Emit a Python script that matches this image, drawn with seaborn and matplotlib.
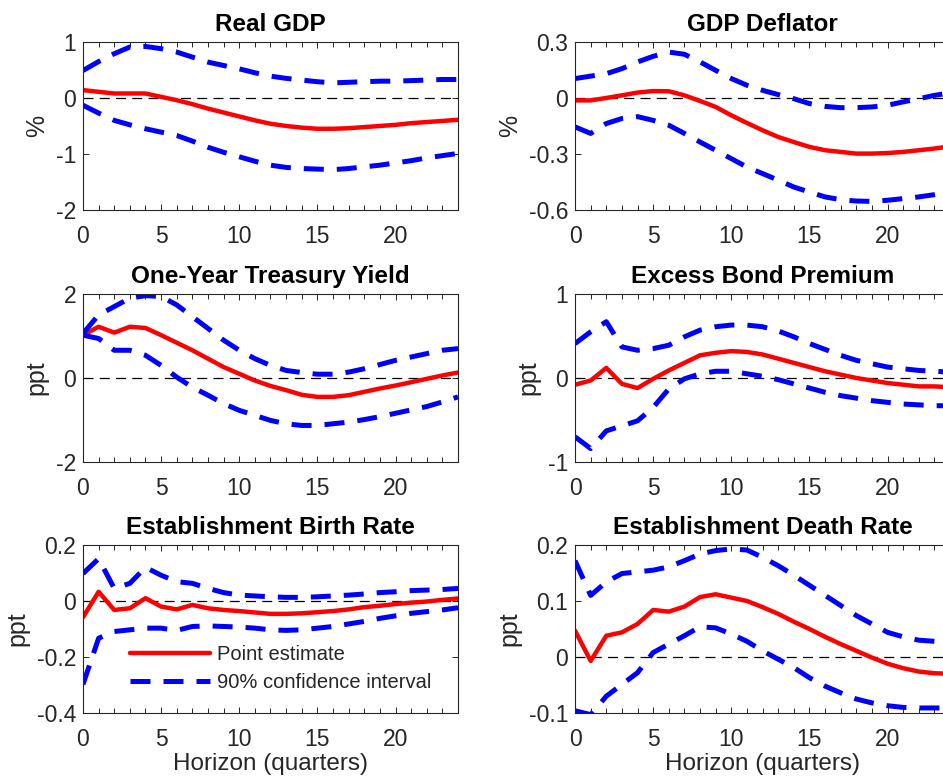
import numpy as np
import pandas as pd
import seaborn as sns
import matplotlib
matplotlib.use('Agg')
import matplotlib.pyplot as plt
from matplotlib.ticker import MultipleLocator

horizon = list(range(25))

# Real GDP (%)
gdp_est = [0.14, 0.11, 0.08, 0.08, 0.08, 0.02, -0.04, -0.11, -0.19, -0.26, -0.33, -0.40, -0.46, -0.50,
           -0.53, -0.55, -0.55, -0.54, -0.52, -0.50, -0.48, -0.45, -0.43, -0.41, -0.39]
gdp_hi = [0.49, 0.65, 0.79, 0.91, 0.92, 0.88, 0.82, 0.73, 0.64, 0.58, 0.52, 0.45, 0.39, 0.35,
          0.32, 0.29, 0.27, 0.28, 0.29, 0.30, 0.30, 0.31, 0.32, 0.33, 0.33]
gdp_lo = [-0.13, -0.27, -0.40, -0.48, -0.55, -0.61, -0.67, -0.77, -0.88, -0.97, -1.05, -1.13, -1.20, -1.24,
          -1.26, -1.27, -1.28, -1.26, -1.23, -1.20, -1.16, -1.12, -1.07, -1.03, -0.99]

# GDP deflator (%)
defl_est = [-0.013, -0.013, 0.0, 0.014, 0.029, 0.037, 0.036, 0.014, -0.016, -0.048, -0.093, -0.134, -0.173,
            -0.209, -0.236, -0.262, -0.280, -0.289, -0.298, -0.298, -0.295, -0.289, -0.280, -0.271, -0.259]
defl_hi = [0.104, 0.117, 0.130, 0.157, 0.193, 0.223, 0.246, 0.234, 0.193, 0.148, 0.104, 0.068, 0.041,
           0.018, -0.004, -0.030, -0.045, -0.052, -0.052, -0.048, -0.039, -0.021, -0.004, 0.014, 0.027]
defl_lo = [-0.155, -0.190, -0.137, -0.110, -0.100, -0.120, -0.146, -0.190, -0.236, -0.280, -0.325, -0.370,
           -0.405, -0.440, -0.477, -0.504, -0.530, -0.545, -0.552, -0.554, -0.548, -0.539, -0.530, -0.518, -0.504]

# One-year Treasury yield (ppt)
ty_est = [1.02, 1.22, 1.08, 1.22, 1.19, 1.02, 0.84, 0.66, 0.46, 0.26, 0.10, -0.06, -0.19, -0.29,
          -0.40, -0.45, -0.45, -0.41, -0.33, -0.25, -0.18, -0.10, -0.02, 0.06, 0.13]
ty_hi = [1.06, 1.50, 1.70, 1.90, 1.96, 1.94, 1.74, 1.46, 1.18, 0.90, 0.66, 0.46, 0.30, 0.18,
         0.13, 0.09, 0.09, 0.14, 0.22, 0.32, 0.42, 0.50, 0.58, 0.66, 0.70]
ty_lo = [1.02, 0.94, 0.66, 0.66, 0.54, 0.30, 0.02, -0.22, -0.41, -0.61, -0.77, -0.89, -1.01, -1.09,
         -1.13, -1.13, -1.09, -1.05, -0.99, -0.92, -0.84, -0.76, -0.68, -0.57, -0.45]

# Excess bond premium (ppt)
ebp_est = [-0.08, -0.03, 0.12, -0.07, -0.12, -0.01, 0.09, 0.18, 0.27, 0.30, 0.32, 0.31, 0.28, 0.23,
           0.18, 0.13, 0.08, 0.04, 0.00, -0.03, -0.06, -0.08, -0.10, -0.10, -0.11]
ebp_hi = [0.41, 0.55, 0.67, 0.37, 0.33, 0.35, 0.39, 0.49, 0.57, 0.61, 0.63, 0.63, 0.61, 0.56,
          0.49, 0.41, 0.34, 0.27, 0.21, 0.17, 0.13, 0.11, 0.09, 0.08, 0.07]
ebp_lo = [-0.70, -0.84, -0.63, -0.57, -0.51, -0.35, -0.13, -0.01, 0.05, 0.08, 0.08, 0.05, 0.02, -0.02,
          -0.07, -0.12, -0.17, -0.21, -0.24, -0.27, -0.29, -0.31, -0.32, -0.33, -0.33]

# Establishment birth rate (ppt)
birth_est = [-0.058, 0.033, -0.032, -0.026, 0.010, -0.020, -0.030, -0.014, -0.026, -0.032, -0.036, -0.041,
             -0.046, -0.046, -0.044, -0.040, -0.036, -0.030, -0.022, -0.017, -0.011, -0.006, -0.002, 0.004, 0.009]
birth_hi = [0.098, 0.151, 0.045, 0.063, 0.120, 0.092, 0.069, 0.063, 0.045, 0.030, 0.021, 0.018, 0.015,
            0.013, 0.013, 0.015, 0.018, 0.021, 0.025, 0.030, 0.033, 0.037, 0.039, 0.041, 0.045]
birth_lo = [-0.298, -0.133, -0.109, -0.103, -0.097, -0.097, -0.105, -0.091, -0.089, -0.091, -0.093, -0.097,
            -0.103, -0.105, -0.103, -0.097, -0.091, -0.082, -0.073, -0.062, -0.053, -0.044, -0.038, -0.032, -0.024]

# Establishment death rate (ppt)
death_est = [0.047, -0.007, 0.038, 0.044, 0.059, 0.084, 0.081, 0.090, 0.107, 0.112, 0.106, 0.100, 0.089,
             0.077, 0.063, 0.050, 0.036, 0.023, 0.011, -0.001, -0.012, -0.020, -0.026, -0.029, -0.030]
death_hi = [0.172, 0.110, 0.134, 0.149, 0.152, 0.155, 0.161, 0.172, 0.184, 0.190, 0.193, 0.191, 0.178,
            0.163, 0.146, 0.128, 0.110, 0.092, 0.074, 0.059, 0.044, 0.036, 0.030, 0.028, 0.027]
death_lo = [-0.096, -0.103, -0.070, -0.049, -0.028, 0.008, 0.023, 0.038, 0.054, 0.052, 0.041, 0.028, 0.011,
            -0.004, -0.019, -0.037, -0.052, -0.064, -0.075, -0.082, -0.087, -0.090, -0.091, -0.091, -0.091]

panels = [
    ('Real GDP', '%', gdp_est, gdp_hi, gdp_lo, (-2, 1), [-2, -1, 0, 1]),
    ('GDP Deflator', '%', defl_est, defl_hi, defl_lo, (-0.6, 0.3), [-0.6, -0.3, 0, 0.3]),
    ('One-Year Treasury Yield', 'ppt', ty_est, ty_hi, ty_lo, (-2, 2), [-2, 0, 2]),
    ('Excess Bond Premium', 'ppt', ebp_est, ebp_hi, ebp_lo, (-1, 1), [-1, 0, 1]),
    ('Establishment Birth Rate', 'ppt', birth_est, birth_hi, birth_lo, (-0.4, 0.2), [-0.4, -0.2, 0, 0.2]),
    ('Establishment Death Rate', 'ppt', death_est, death_hi, death_lo, (-0.1, 0.2), [-0.1, 0, 0.1, 0.2]),
]

sns.set_theme()
sns.set_style('ticks')
plt.rcParams['font.family'] = ['Liberation Sans', 'DejaVu Sans']
grey = '#262626'
plt.rcParams.update({'axes.edgecolor': grey, 'xtick.color': grey, 'ytick.color': grey,
                     'axes.labelcolor': grey, 'axes.linewidth': 0.8, 'axes.unicode_minus': False})

fig = plt.figure(figsize=(9.43, 7.8), dpi=100)
lefts = [0.088, 0.6098]
bottoms = [0.7308, 0.4077, 0.0859]
w, h = 0.3977, 0.2154

for i, (title, unit, est, hi, lo, ylim, yticks) in enumerate(panels):
    row, col = divmod(i, 2)
    ax = fig.add_axes([lefts[col], bottoms[row], w, h])
    df = pd.DataFrame({'h': horizon, 'est': est, 'hi': hi, 'lo': lo})
    ax.axhline(0, color='black', lw=0.9, dashes=(8, 5), zorder=1)
    sns.lineplot(data=df, x='h', y='est', ax=ax, color='#ff0000', lw=3.2, label='Point estimate')
    sns.lineplot(data=df, x='h', y='hi', ax=ax, color='#0000ff', lw=3.6,
                 label='90% confidence interval')
    sns.lineplot(data=df, x='h', y='lo', ax=ax, color='#0000ff', lw=3.6)
    for ln in ax.lines[2:]:
        ln.set_dashes((4, 2.6))
    ax.set_xlim(0, 24)
    ax.set_ylim(*ylim)
    ax.set_yticks(yticks)
    ax.set_yticklabels([('%g' % t) for t in yticks])
    ax.set_xticks([0, 5, 10, 15, 20])
    ax.xaxis.set_minor_locator(MultipleLocator(1))
    ax.tick_params(which='both', direction='in', top=True, right=True, labelsize=16.5)
    ax.tick_params(axis='x', pad=11)
    ax.tick_params(axis='y', pad=5)
    ax.tick_params(which='major', length=4.5, width=0.7)
    ax.tick_params(which='minor', length=3.5, width=0.7)
    ax.set_title(title, fontsize=17.5, fontweight='bold', color='black', pad=8)
    ax.set_ylabel(unit, fontsize=18, labelpad=5)
    ax.set_xlabel('Horizon (quarters)' if row == 2 else '', fontsize=17.5, labelpad=1)
    if i == 4:
        handles, labels = ax.get_legend_handles_labels()
        ax.legend(handles[:2], labels[:2], loc='center left', bbox_to_anchor=(0.125, 0.265),
                  frameon=False, fontsize=14.5, handlelength=4.0, handletextpad=0.35,
                  labelspacing=0.45, borderpad=0, borderaxespad=0)
    else:
        ax.get_legend().remove()

fig.savefig('out.png', dpi=100)
